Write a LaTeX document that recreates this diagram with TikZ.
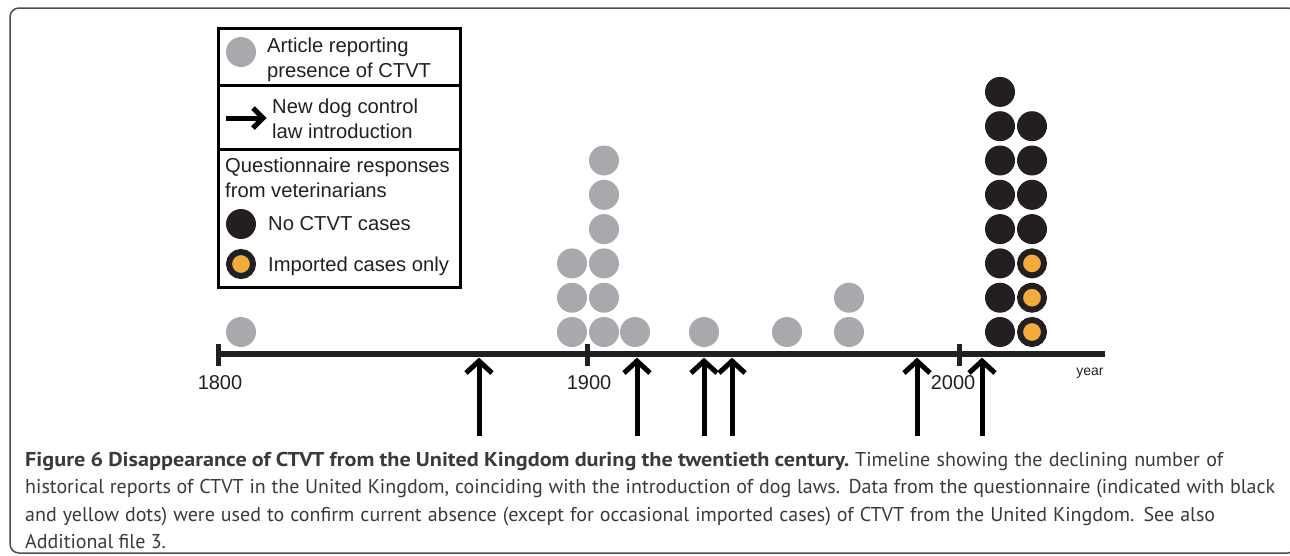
\documentclass[tikz,border=0pt]{standalone}
\usepackage{fontspec}
\setmainfont{Liberation Sans}
\newfontfamily\capfont[BoldFeatures={FakeStretch=1.11}]{PT Sans}
\definecolor{dotgray}{HTML}{A7A9AC}
\definecolor{ink}{HTML}{231F20}
\definecolor{dotorange}{HTML}{F3AC3B}
\definecolor{captext}{HTML}{3A3A3A}
\begin{document}
\begin{tikzpicture}[x=1pt,y=-1pt,
  gdot/.style={circle,fill=dotgray,minimum size=30pt,inner sep=0pt},
  bdot/.style={circle,fill=ink,minimum size=30pt,inner sep=0pt},
  odot/.style={circle,fill=dotorange,draw=ink,line width=6pt,minimum size=24pt,inner sep=0pt,outer sep=0pt},
  axisline/.style={line width=5.5pt,draw=ink},
  tickmark/.style={line width=5pt,draw=ink},
  lawshaft/.style={line width=5pt,draw=black},
  lawhead/.style={line width=5pt,draw=black,line join=miter,miter limit=10},
  legtext/.style={anchor=base west,inner sep=0pt,font=\fontsize{20.2}{24}\selectfont,text=ink},
  yeartext/.style={anchor=base,inner sep=0pt,font=\fontsize{20}{24}\selectfont,text=ink},
  captext/.style={anchor=base west,inner sep=0pt,font=\capfont\fontsize{20}{24}\selectfont,text=captext}
]
\useasboundingbox (0,0) rectangle (1290,555);
% frame
\draw[line width=1.5pt,draw=ink!80,rounded corners=9pt] (10,8) rectangle (1297,553);

% legend
\draw[line width=3pt,draw=black] (218,28) rectangle (460,287);
\draw[line width=3pt,draw=black] (218,85) -- (460,85);
\draw[line width=3pt,draw=black] (218,149) -- (460,149);
\node[gdot] (lg) at (241,52) {};
\node[legtext] (lt1) at (267,52) {Article reporting};
\node[legtext] (lt2) at (267,77) {presence of CTVT};
\coordinate (la0) at (226,118);
\coordinate (la1) at (263,118);
\coordinate (lau) at (253,108);
\coordinate (lad) at (253,128);
\draw[lawshaft] (la0) -- (la1);
\draw[lawhead] (lau) -- (la1) -- (lad);
\node[legtext] (lt3) at (272,113) {New dog control};
\node[legtext] (lt4) at (272,138) {law introduction};
\node[legtext] (lt5) at (225,172) {Questionnaire responses};
\node[legtext] (lt6) at (225,197) {from veterinarians};
\node[bdot] (lb) at (241,224) {};
\node[legtext] (lt7) at (268,230) {No CTVT cases};
\node[odot] (lo) at (241,264) {};
\node[legtext] (lt8) at (268,271) {Imported cases only};

% axis
\coordinate (ax0) at (216,354);
\coordinate (ax1) at (1105,354);
\draw[axisline] (ax0) -- (ax1);
\foreach \x/\lab in {218/1800,587/1900,959/2000}{
  \coordinate (t\lab a) at (\x,344);
  \coordinate (t\lab b) at (\x,366);
  \draw[tickmark] (t\lab a) -- (t\lab b);
}
\node[yeartext] (y1800) at (220,389) {1800};
\node[yeartext] (y1900) at (589,389) {1900};
\node[yeartext] (y2000) at (953,389) {2000};
\node[anchor=base,inner sep=0pt,font=\fontsize{14}{16}\selectfont,text=ink] (yr) at (1090,375) {year};

% gray dots
\node[gdot] (d1800) at (241,332) {};
\foreach \k in {0,1,2}{\node[gdot] (ga\k) at (572,{332-34.3*\k}) {};}
\foreach \k in {0,...,5}{\node[gdot] (gb\k) at (604,{332-34.3*\k}) {};}
\node[gdot] (gc) at (635,332) {};
\node[gdot] (gd) at (704,332) {};
\node[gdot] (ge) at (787,332) {};
\foreach \k in {0,1}{\node[gdot] (gf\k) at (849,{332-34.3*\k}) {};}

% questionnaire dots
\foreach \k in {0,...,7}{\node[bdot] (ba\k) at (1000,{332-34.3*\k}) {};}
\foreach \k in {0,1,2}{\node[odot] (bo\k) at (1032,{332-34.3*\k}) {};}
\foreach \k in {3,...,6}{\node[bdot] (bb\k) at (1032,{332-34.3*\k}) {};}

% law arrows
\foreach \x [count=\i] in {479,637,704,732,917,982}{
  \coordinate (ar\i a) at (\x,436);
  \coordinate (ar\i b) at (\x,361);
  \coordinate (ar\i l) at (\x-13,373);
  \coordinate (ar\i r) at (\x+13,373);
  \draw[lawshaft] (ar\i a) -- (ar\i b);
  \draw[lawhead] (ar\i l) -- (ar\i b) -- (ar\i r);
}

% caption
\node[captext] (c1a) at (25,466) {\makebox[824pt][s]{\bfseries Figure 6 Disappearance of CTVT from the United Kingdom during the twentieth century.}};
\node[captext] (c1b) at (855,466) {\makebox[368pt][s]{Timeline showing the declining number of}};
\node[captext] (c2) at (25,493.5) {\makebox[1250pt][s]{historical reports of CTVT in the United Kingdom, coinciding with the introduction of dog laws. Data from the questionnaire (indicated with black}};
\node[captext] (c3) at (25,521) {\makebox[1190pt][s]{and yellow dots) were used to confirm current absence (except for occasional imported cases) of CTVT from the United Kingdom. See also}};
\node[captext] (c4) at (25,548.5) {Additional file 3.};
\end{tikzpicture}
\end{document}
